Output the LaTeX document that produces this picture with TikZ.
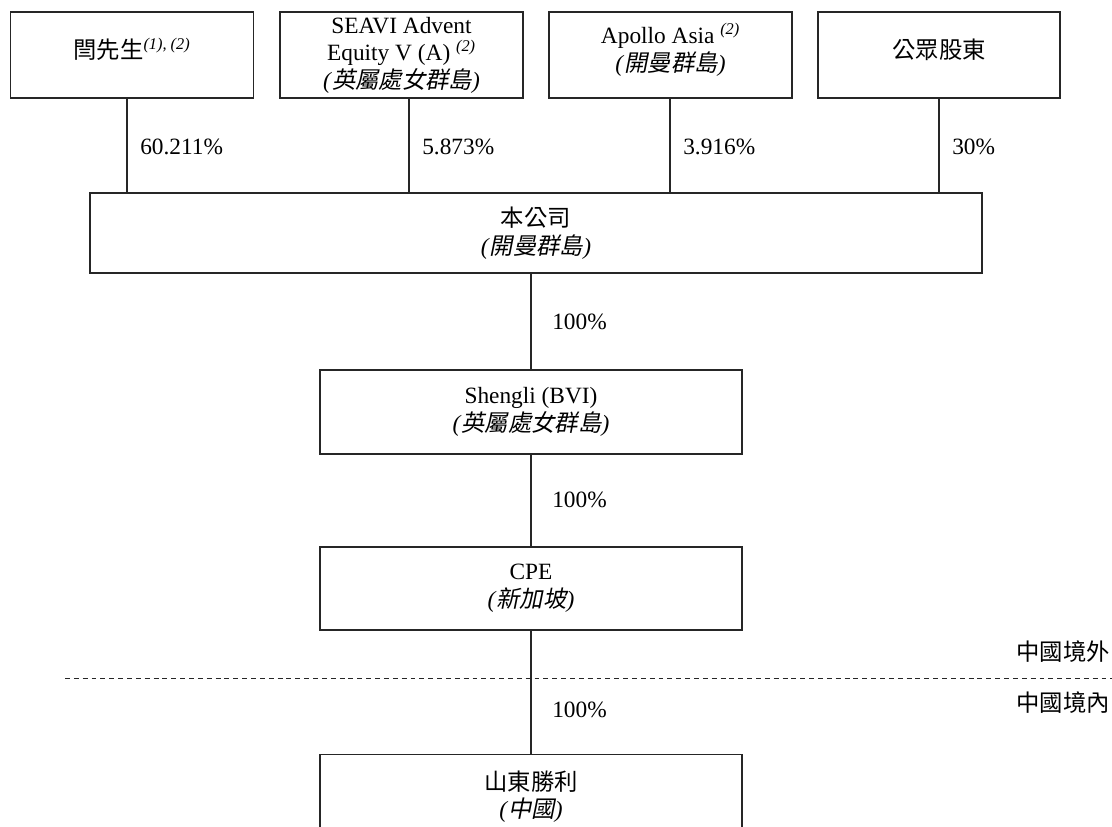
\documentclass[tikz,border=0pt]{standalone}
\usepackage{fontspec}
\usepackage{tikz}
\setmainfont{Liberation Serif}
\newfontfamily\zhfont{Noto Sans CJK TC}
\newfontfamily\zhslant[FakeSlant=0.2]{Noto Sans CJK TC}
\newcommand{\zh}[1]{{\zhfont #1}}
\newcommand{\zhi}[1]{\textit{(}{\zhslant #1}\textit{)}}
\newcommand{\fnmark}[1]{\textsuperscript{\itshape #1}}
\newcommand{\chartsize}{\fontsize{16.6}{19.6}\selectfont}

\begin{document}
\begin{tikzpicture}[x=0.025cm,y=-0.025cm,
  holder/.style={draw=black!85,line width=0.9pt,align=center,inner sep=0pt,font=\chartsize},
  pct/.style={anchor=west,inner sep=0pt,font=\chartsize},
  link/.style={black!85,line width=0.8pt}]
 \useasboundingbox (0,0) rectangle (1112,827);
 % shareholders
 \node[holder,minimum width=6.075cm,minimum height=2.15cm,text depth=9pt] (yan) at (132,55) {\zh{閆先生}\fnmark{(1), (2)}};
 \node[holder,minimum width=6.075cm,minimum height=2.15cm] (seavi) at (401.5,55) {SEAVI Advent\\Equity V (A) \fnmark{(2)}\\\zhi{英屬處女群島}};
 \node[holder,minimum width=6.075cm,minimum height=2.15cm,text depth=11pt] (apollo) at (670.5,55) {Apollo Asia \fnmark{(2)}\\\zhi{開曼群島}};
 \node[holder,minimum width=6.05cm,minimum height=2.15cm,text depth=9pt] (public) at (939,55) {\zh{公眾股東}};
 % company and subsidiaries
 \node[holder,minimum width=22.3cm,minimum height=2cm] (co) at (536,233) {\zh{本公司}\\\zhi{開曼群島}};
 \node[holder,minimum width=10.55cm,minimum height=2.1cm] (bvi) at (531,412) {Shengli (BVI)\\\zhi{英屬處女群島}};
 \node[holder,minimum width=10.55cm,minimum height=2.075cm] (cpe) at (531,588.5) {CPE\\\zhi{新加坡}};
 \node[holder,minimum width=10.55cm,minimum height=2.1cm,anchor=north] (sd) at (531,754) {\zh{山東勝利}\\\zhi{中國}};
 % holdings
 \draw[link] (yan.south -| 127,0) -- (co.north -| 127,0);
 \draw[link] (seavi.south -| 409,0) -- (co.north -| 409,0);
 \draw[link] (apollo.south -| 670,0) -- (co.north -| 670,0);
 \draw[link] (public.south -| 939,0) -- (co.north -| 939,0);
 \node[pct] (p1) at (140,147) {60.211\%};
 \node[pct] (p2) at (422,147) {5.873\%};
 \node[pct] (p3) at (683,147) {3.916\%};
 \node[pct] (p4) at (952,147) {30\%};
 \draw[link] (co.south -| bvi.north) -- (bvi.north);
 \draw[link] (bvi) -- (cpe);
 \draw[link] (cpe) -- (sd);
 \node[pct] (p5) at (552,322) {100\%};
 \node[pct] (p6) at (552,500) {100\%};
 \node[pct] (p7) at (552,710) {100\%};
 % border of PRC
 \coordinate (b0) at (65,678);
 \coordinate (b1) at (1112,678);
 \draw[black!85,line width=0.7pt,dash pattern=on 3.5pt off 2.8pt] (b0) -- (b1);
 \node[font=\chartsize,anchor=east,inner sep=0pt] (out) at (1110,652) {\zh{中國境外}};
 \node[font=\chartsize,anchor=east,inner sep=0pt] (in) at (1110,703) {\zh{中國境內}};
\end{tikzpicture}
\end{document}
